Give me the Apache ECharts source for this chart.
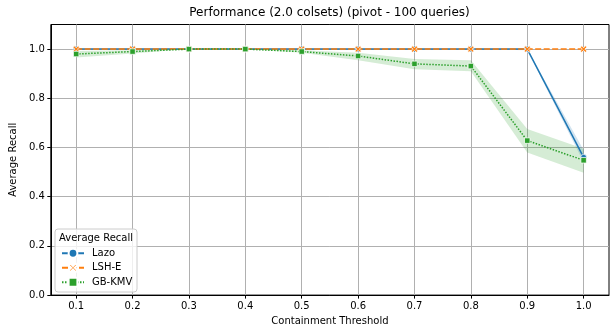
<!DOCTYPE html>
<html>
<head>
<meta charset="utf-8">
<script src="https://cdn.jsdelivr.net/npm/echarts@6/dist/echarts.min.js"></script>
<style>
    html, body { margin: 0; padding: 0; background: #fff; }
    #chart { width: 613px; height: 331px; }
</style>
</head>
<body>
<div id="chart"></div>
<script>
// 图表数据
const thresholds = [0.1, 0.2, 0.3, 0.4, 0.5, 0.6, 0.7, 0.8, 0.9, 1.0]
const yTicks = [0.0, 0.2, 0.4, 0.6, 0.8, 1.0]

const lazo = [1.0, 1.0, 1.0, 1.0, 1.0, 1.0, 1.0, 1.0, 1.0, 0.56]
const lazoLow = [1.0, 1.0, 1.0, 1.0, 1.0, 1.0, 1.0, 1.0, 0.995, 0.54]
const lazoHigh = [1.0, 1.0, 1.0, 1.0, 1.0, 1.0, 1.0, 1.0, 1.0, 0.59]

const lshe = [1.0, 1.0, 1.0, 1.0, 1.0, 1.0, 1.0, 1.0, 1.0, 1.0]

const gbkmv = [0.98, 0.99, 1.0, 1.0, 0.99, 0.972, 0.94, 0.931, 0.628, 0.548]
const gbkmvLow = [0.966, 0.982, 1.0, 1.0, 0.985, 0.955, 0.918, 0.91, 0.58, 0.497]
const gbkmvHigh = [0.992, 0.995, 1.0, 1.0, 0.995, 0.985, 0.96, 0.955, 0.675, 0.595]

const colors = ['#1f77b4', '#ff7f0e', '#2ca02c']
const font = 'DejaVu Sans'

// X 形标记
const xMarker = 'path://M0,2 L2,0 L5,3 L8,0 L10,2 L7,5 L10,8 L8,10 L5,7 L2,10 L0,8 L3,5 Z'

function pairs(values) {
    return thresholds.map((t, i) => [t, values[i]])
}

// 置信区间：每段一个四边形
function band(name, low, high, color) {
    let segs = []
    for (let i = 0; i < thresholds.length - 1; i++) {
        segs.push([thresholds[i], low[i], high[i], thresholds[i + 1], low[i + 1], high[i + 1]])
    }
    return {
        type: 'custom',
        name: name + '-band',
        data: segs,
        silent: true,
        clip: true,
        z: 1,
        encode: { x: [0, 3], y: [1, 2, 4, 5] },
        renderItem: function (params, api) {
            let a = api.coord([api.value(0), api.value(1)])
            let b = api.coord([api.value(0), api.value(2)])
            let c = api.coord([api.value(3), api.value(5)])
            let d = api.coord([api.value(3), api.value(4)])
            return {
                type: 'polygon',
                shape: { points: [a, b, c, d] },
                style: { fill: color, opacity: 0.2, stroke: color, lineWidth: 0.01, strokeOpacity: 0 }
            }
        }
    }
}

let myChart = echarts.init(document.getElementById('chart'))
myChart.setOption({
    animation: false,
    backgroundColor: '#fff',
    title: {
        text: 'Performance (2.0 colsets) (pivot - 100 queries)',
        left: 329.5,
        top: 7,
        padding: 0,
        textAlign: 'center',
        textStyle: { fontFamily: font, fontSize: 12, fontWeight: 'normal', color: '#000' }
    },
    grid: {
        left: 50, right: 4, top: 24.5, bottom: 34.5,
        show: true, borderColor: '#000', borderWidth: 1,
        containLabel: false
    },
    xAxis: {
        type: 'value',
        min: 0.055,
        max: 1.045,
        name: 'Containment Threshold',
        nameLocation: 'middle',
        nameGap: 20,
        nameTextStyle: { fontFamily: font, fontSize: 10, color: '#000' },
        axisLine: { show: true, lineStyle: { color: '#000', width: 1 } },
        axisTick: { show: true, length: 3.5, customValues: thresholds, lineStyle: { color: '#000' } },
        axisLabel: {
            customValues: thresholds,
            formatter: v => v.toFixed(1),
            fontFamily: font, fontSize: 10, color: '#000', margin: 6
        },
        splitLine: { show: true, lineStyle: { color: '#b0b0b0', width: 1 } }
    },
    yAxis: {
        type: 'value',
        min: 0,
        max: 1.1,
        name: 'Average Recall',
        nameLocation: 'middle',
        nameGap: 24,
        nameTextStyle: { fontFamily: font, fontSize: 10, color: '#000' },
        axisLine: { show: true, lineStyle: { color: '#000', width: 1 } },
        axisTick: { show: true, length: 3.5, customValues: yTicks, lineStyle: { color: '#000' } },
        axisLabel: {
            customValues: yTicks,
            formatter: v => v.toFixed(1),
            fontFamily: font, fontSize: 10, color: '#000', margin: 6
        },
        splitLine: { show: true, lineStyle: { color: '#b0b0b0', width: 1 } }
    },
    legend: {
        data: ['Lazo', 'LSH-E', 'GB-KMV'],
        orient: 'vertical',
        left: 61,
        top: 246,
        padding: 0,
        itemWidth: 22,
        itemHeight: 11,
        itemGap: 0,
        z: 20,
        textStyle: { fontFamily: font, fontSize: 10, color: '#000', lineHeight: 14.5, padding: [0, 0, 0, 3] }
    },
    graphic: [
        {
            type: 'rect',
            z: 10,
            shape: { x: 55, y: 229, width: 82, height: 63, r: 3 },
            style: { fill: 'rgba(255,255,255,0.8)', stroke: '#cccccc', lineWidth: 1 }
        },
        {
            type: 'text',
            z: 11,
            x: 96,
            y: 238,
            style: {
                text: 'Average Recall', fontFamily: font, fontSize: 10, fill: '#000',
                align: 'center', verticalAlign: 'middle'
            }
        }
    ],
    color: colors,
    series: [
        band('Lazo', lazoLow, lazoHigh, colors[0]),
        band('LSH-E', lshe, lshe, colors[1]),
        band('GB-KMV', gbkmvLow, gbkmvHigh, colors[2]),
        {
            type: 'line',
            name: 'Lazo',
            data: pairs(lazo),
            symbol: 'circle',
            symbolSize: 6,
            itemStyle: { color: colors[0], borderColor: '#fff', borderWidth: 0.75 },
            lineStyle: { color: colors[0], width: 1.5 },
            z: 3
        },
        {
            type: 'line',
            name: 'LSH-E',
            data: pairs(lshe),
            symbol: xMarker,
            symbolSize: 6.5,
            itemStyle: { color: colors[1], borderColor: '#fff', borderWidth: 0.75 },
            lineStyle: { color: colors[1], width: 1.5, type: [6, 2.5] },
            z: 4
        },
        {
            type: 'line',
            name: 'GB-KMV',
            data: pairs(gbkmv),
            symbol: 'rect',
            symbolSize: 5.5,
            itemStyle: { color: colors[2], borderColor: '#fff', borderWidth: 0.75 },
            lineStyle: { color: colors[2], width: 1.5, type: [1.5, 1.5] },
            z: 5
        }
    ]
})
</script>
</body>
</html>
